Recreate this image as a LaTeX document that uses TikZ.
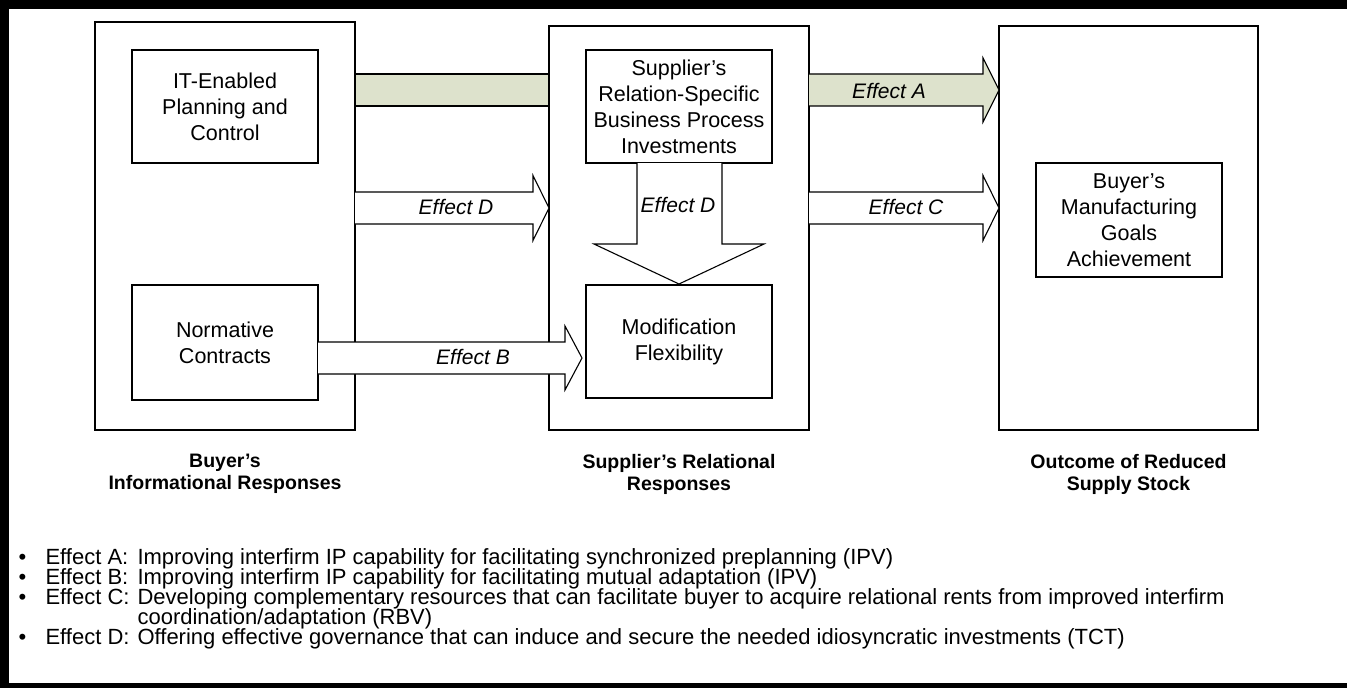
\documentclass[tikz,border=0pt]{standalone}
\usepackage{fontspec}
\setmainfont{Liberation Sans}
\usetikzlibrary{calc}
\definecolor{bandgreen}{RGB}{221,226,204}
\begin{document}
\begin{tikzpicture}[x=1bp,y=-1bp,line width=1.1bp,
  bigbox/.style={draw,fill=white,minimum width=#1,inner sep=0pt,outer sep=0pt},
  inbox/.style={draw,fill=white,minimum width=186bp,inner sep=0pt,outer sep=0pt,align=center,font=\fontsize{21.5bp}{26bp}\selectfont},
  efflbl/.style={font=\fontsize{21bp}{24bp}\selectfont\itshape,inner sep=0pt},
  collbl/.style={align=center,font=\fontsize{19.5bp}{22bp}\selectfont\bfseries,inner sep=0pt},
  bul/.style={anchor=base west,inner sep=0pt,font=\fontsize{22bp}{20bp}\selectfont},
  blockarrow/.style={draw,line join=miter}]
\useasboundingbox (0,0) rectangle (1347,687);
\fill[white] (-20,-20) rectangle (1370,700);
% frame
\fill (-20,-20) rectangle (1370,9);
\fill (-20,-20) rectangle (9,700);
\fill (-20,683) rectangle (1370,700);
% column boxes
\node[bigbox=260bp,minimum height=408bp] (L) at (225,226) {};
\node[bigbox=260bp,minimum height=404bp] (M) at (679,228) {};
\node[bigbox=259bp,minimum height=404bp] (R) at (1128.5,228) {};
% green band from buyer box to supplier box
\fill[bandgreen] (355.6,74) rectangle (548.4,106);
\draw (L.east |- 0,74) -- (M.west |- 0,74);
\draw (L.east |- 0,106) -- (M.west |- 0,106);
% inner boxes
\node[inbox,minimum height=113bp] (IT) at (225,106.5) {IT-Enabled\\Planning and\\Control};
\node[inbox,minimum height=115bp] (NC) at (225,342.5) {Normative\\Contracts};
\node[inbox,minimum height=113bp] (SR) at (679,106.5) {Supplier’s\\Relation-Specific\\Business Process\\Investments};
\node[inbox,minimum height=113bp] (MF) at (679,341.5) {Modification\\Flexibility};
\node[inbox,minimum height=114bp] (BM) at (1129,220) {Buyer’s\\Manufacturing\\Goals\\Achievement};
% Effect A
\filldraw[blockarrow,fill=bandgreen] (809,74) -- (983,74) -- (983,58) -- (999,90) -- (983,122) -- (983,106) -- (809,106);
\node[efflbl] (eA) at (889,91) {Effect A};
% Effect D horizontal
\filldraw[blockarrow,fill=white] (355,192) -- (533,192) -- (533,175.5) -- (549,208) -- (533,240.5) -- (533,224) -- (355,224);
\node[efflbl] (eD1) at (456,207) {Effect D};
% Effect C
\filldraw[blockarrow,fill=white] (809,192) -- (983,192) -- (983,175.5) -- (999,208) -- (983,240.5) -- (983,224) -- (809,224);
\node[efflbl] (eC) at (906,207) {Effect C};
% Effect B
\filldraw[blockarrow,fill=white] (318,342) -- (565,342) -- (565,326) -- (582,358) -- (565,390) -- (565,374) -- (318,374);
\node[efflbl] (eB) at (473,357) {Effect B};
% Effect D vertical
\filldraw[blockarrow,fill=white] (637,163) -- (637,244) -- (594,244) -- (679,284) -- (764,244) -- (722,244) -- (722,163);
\node[efflbl] (eD2) at (678,205) {Effect D};
% column labels
\node[collbl] (Lt) at (225,474) {Buyer’s\\Informational Responses};
\node[collbl] (Mt) at (679,474) {Supplier’s Relational\\Responses};
\node[collbl] (Rt) at (1128.5,474) {Outcome of Reduced\\Supply Stock};
% bullets
\foreach \yy/\lab/\txt [count=\i] in {564/Effect A:/Improving interfirm IP capability for facilitating synchronized preplanning (IPV),
  584/Effect B:/Improving interfirm IP capability for facilitating mutual adaptation (IPV),
  604/Effect C:/Developing complementary resources that can facilitate buyer to acquire relational rents from improved interfirm,
  644/Effect D:/Offering effective governance that can induce and secure the needed idiosyncratic investments (TCT)}{
  \node[bul] (b\i) at (18,\yy) {•};
  \node[bul] (k\i) at (45,\yy) {\lab};
  \node[bul] (t\i) at (137,\yy) {\txt};
}
\node[bul] (t5) at (137,624) {coordination/adaptation (RBV)};
\end{tikzpicture}
\end{document}
